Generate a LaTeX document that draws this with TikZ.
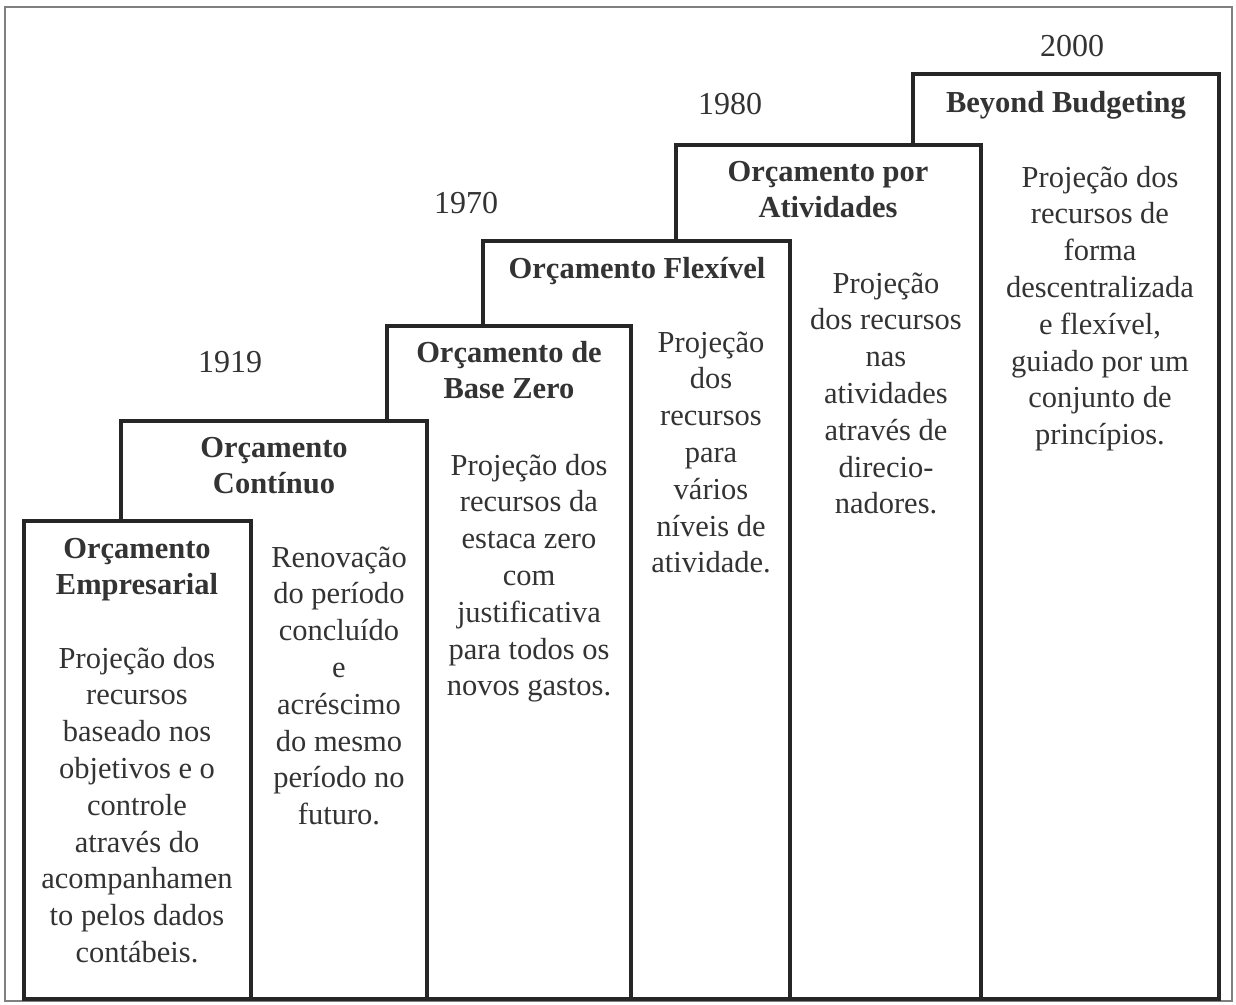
\documentclass[tikz,border=0pt]{standalone}
\usepackage{fontspec}
\setmainfont{Liberation Serif}
\usepackage{tikz}

\tikzset{
  stage/.style={draw=black!85, line width=3.6pt, fill=white},
  body/.style={anchor=base, inner sep=0pt, text=black!80, font=\fontsize{30.5}{36}\selectfont},
  head/.style={body, font=\fontsize{30.5}{36}\selectfont\bfseries},
  year/.style={body, font=\fontsize{32}{36}\selectfont}
}

\begin{document}
\begin{tikzpicture}[x=1pt,y=-1pt]
            \useasboundingbox (0,0) rectangle (1236,1004);
            \draw[gray, line width=1.2pt] (5,7) rectangle (1232,1001);

            % stages, back to front
            \draw[stage] (913,74) rectangle (1219,999);
            \draw[stage] (676,145) rectangle (981,999);
            \draw[stage] (483,241) rectangle (790,999);
            \draw[stage] (387,326) rectangle (631,999);
            \draw[stage] (121,421) rectangle (427,999);
            \draw[stage] (24,521) rectangle (251,999);

            % years
            \node[year] (y1919) at (230,372) {1919};
            \node[year] (y1970) at (466,213) {1970};
            \node[year] (y1980) at (730,114) {1980};
            \node[year] (y2000) at (1072,56) {2000};

            % titles
            \foreach \t [count=\i from 0] in {Orçamento, Empresarial} \node[head] (ta-\i) at (137,558+36*\i) {\t};
            \foreach \t [count=\i from 0] in {Orçamento, Contínuo} \node[head] (tb-\i) at (274,457+36*\i) {\t};
            \foreach \t [count=\i from 0] in {Orçamento de, Base Zero} \node[head] (tc-\i) at (509,362+36*\i) {\t};
            \node[head] (td-0) at (637,278) {Orçamento Flexível};
            \foreach \t [count=\i from 0] in {Orçamento por, Atividades} \node[head] (te-\i) at (828,181+36*\i) {\t};
            \node[head] (tf-0) at (1066,112) {Beyond Budgeting};

            % descriptions
            \foreach \t [count=\i from 0] in {Projeção dos, recursos, baseado nos, objetivos e o, controle, através do, acompanhamen, to pelos dados, contábeis.}
                \node[body] (da-\i) at (137,668+36.8*\i) {\t};
            \foreach \t [count=\i from 0] in {Renovação, do período, concluído, e, acréscimo, do mesmo, período no, futuro.}
                \node[body] (db-\i) at (339,567+36.8*\i) {\t};
            \foreach \t [count=\i from 0] in {Projeção dos, recursos da, estaca zero, com, justificativa, para todos os, novos gastos.}
                \node[body] (dc-\i) at (529,475+36.8*\i) {\t};
            \foreach \t [count=\i from 0] in {Projeção, dos, recursos, para, vários, níveis de, atividade.}
                \node[body] (dd-\i) at (711,352+36.8*\i) {\t};
            \foreach \t [count=\i from 0] in {Projeção, dos recursos, nas, atividades, através de, direcio-, nadores.}
                \node[body] (de-\i) at (886,293+36.8*\i) {\t};
            \foreach \t [count=\i from 0] in {Projeção dos, recursos de, forma, descentralizada, {e flexível,}, guiado por um, conjunto de, princípios.}
                \node[body] (df-\i) at (1100,187+36.8*\i) {\t};

        \end{tikzpicture}
\end{document}
